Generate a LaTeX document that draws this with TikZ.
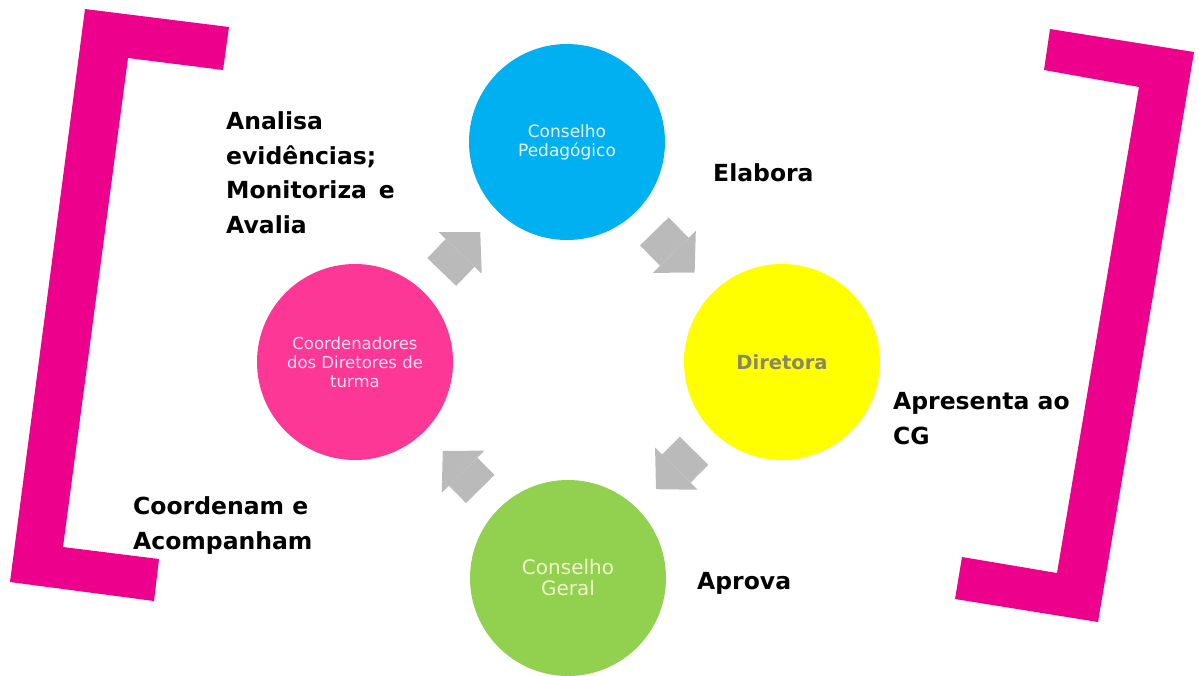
\documentclass[tikz,border=0pt]{standalone}
\usepackage{fontspec}
\setmainfont{DejaVu Sans}
\usepackage{xcolor}
\usetikzlibrary{calc,arrows.meta}
\definecolor{BracketPink}{HTML}{EC008C}
\definecolor{PedBlue}{HTML}{00B0F0}
\definecolor{PedText}{HTML}{E6F4FB}
\definecolor{DirYellow}{HTML}{FFFF00}
\definecolor{DirText}{HTML}{8A8763}
\definecolor{GeralGreen}{HTML}{92D050}
\definecolor{GeralText}{HTML}{EEF8C8}
\definecolor{CoordPink}{HTML}{FC3796}
\definecolor{CoordText}{HTML}{FDE0EF}
\definecolor{ArrowGrey}{HTML}{BABABA}

\begin{document}
\begin{tikzpicture}[x=1pt,y=-1pt,
    Circ/.style={circle,minimum size=196pt,inner sep=0pt,outer sep=0pt,align=center},
    FlowArrow/.style={draw=ArrowGrey,line width=40pt,
      -{Triangle[length=29pt,width=60pt,line width=0pt]},shorten <=27pt,shorten >=27pt},
    Label/.style={anchor=base west,align=left,inner sep=0pt,
      font=\bfseries\fontsize{23.5}{34.5}\selectfont}]
		\useasboundingbox (0,0) rectangle (1199,675);
		\clip (0,0) rectangle (1199,675); % Clips the picture...

		% The two brackets
		\fill[BracketPink] (85,9) -- (229,27) -- (223,70) -- (128,58) -- (63,547)
		  -- (159,559) -- (154,601) -- (10,582) -- cycle;
		\fill[BracketPink] (1050,29) -- (1194,52) -- (1098,622) -- (955,599)
		  -- (962,557) -- (1057,573) -- (1139,87) -- (1044,70) -- cycle;

		% The four circles
		\node[Circ,fill=PedBlue,text=PedText,font=\fontsize{17}{19}\selectfont]
		  (ConselhoPed) at (567,142) {Conselho\\Pedagógico};
		\node[Circ,fill=DirYellow,text=DirText,font=\bfseries\fontsize{19.5}{22}\selectfont]
		  (Diretora) at (782,362) {Diretora};
		\node[Circ,fill=GeralGreen,text=GeralText,font=\fontsize{20}{21}\selectfont]
		  (ConselhoGeral) at (568,578) {Conselho\\Geral};
		\node[Circ,fill=CoordPink,text=CoordText,font=\fontsize{16.5}{19}\selectfont]
		  (Coordenadores) at (355,362) {Coordenadores\\dos Diretores de\\turma};

		\foreach \a/\b in {Coordenadores/ConselhoPed,ConselhoPed/Diretora,%
		  Diretora/ConselhoGeral,ConselhoGeral/Coordenadores}{% one arrow per pair
		  \draw[FlowArrow] (\a) -- (\b);
		}

		% What each one does (base = last line)
		\node[Label] (Analisa) at (226,233) {Analisa\\evidências;\\Monitoriza\enspace e\\Avalia};
		\node[Label] (Elabora) at (713,181) {Elabora};
		\node[Label] (Apresenta) at (893,444) {Apresenta ao\\CG};
		\node[Label] (Aprova) at (697,589) {Aprova};
		\node[Label] (Coordenam) at (133,549) {Coordenam e\\Acompanham};
	  \end{tikzpicture}
\end{document}
